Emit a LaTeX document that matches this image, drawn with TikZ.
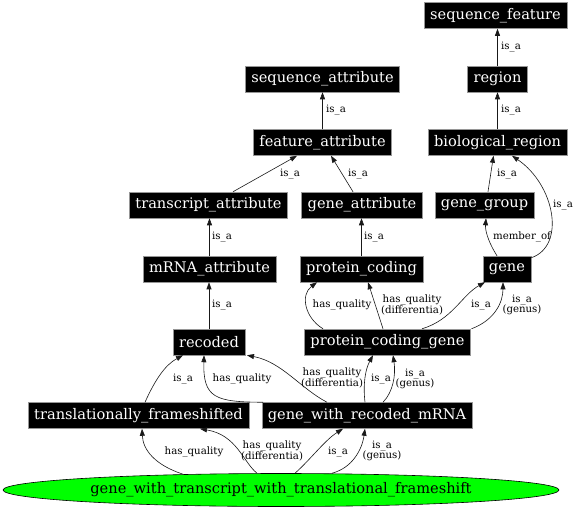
\documentclass[tikz,border=0pt]{standalone}
\usepackage{fontspec}
\setmainfont{DejaVu Serif}
\usetikzlibrary{shapes.geometric,arrows.meta}
\definecolor{termblack}{RGB}{0,0,0}
\definecolor{termedge}{RGB}{150,150,150}
\definecolor{rootgreen}{RGB}{0,255,0}
\definecolor{reltext}{RGB}{25,25,25}
\tikzset{
  term/.style={fill=termblack,draw=termedge,line width=0.5pt,text=white,
    font=\fontsize{14.6}{16}\selectfont,minimum height=26pt,inner xsep=6pt,inner ysep=0pt},
  rootterm/.style={ellipse,fill=rootgreen,draw=black,line width=0.6pt,
    font=\fontsize{14.6}{16}\selectfont,minimum width=556pt,minimum height=33pt,inner sep=0pt},
  rel/.style={draw=reltext,line width=0.6pt,-{Triangle[length=7pt,width=5pt]}},
  rellbl/.style={font=\fontsize{10.2}{10.5}\selectfont,align=center,inner sep=0pt}
}
\begin{document}
\begin{tikzpicture}[x=1pt,y=-1pt]
\useasboundingbox (0,0) rectangle (576,509);
% terms
\node[term] (seqfeat) at (495.5,15.5) {sequence\_feature};
\node[term] (region) at (497.5,79) {region};
\node[term] (bioreg) at (497.5,142.5) {biological\_region};
\node[term] (genegrp) at (484.5,205) {gene\_group};
\node[term] (seqattr) at (322.5,79) {sequence\_attribute};
\node[term] (featattr) at (322.5,142.5) {feature\_attribute};
\node[term] (txattr) at (208.5,205) {transcript\_attribute};
\node[term] (geneattr) at (362,205) {gene\_attribute};
\node[term] (mrnaattr) at (209.5,269) {mRNA\_attribute};
\node[term] (protcod) at (361.5,269) {protein\_coding};
\node[term] (gene) at (507,269) {gene};
\node[term] (recoded) at (209,342) {recoded};
\node[term] (pcgene) at (387.5,342) {protein\_coding\_gene};
\node[term] (tfshift) at (138.5,415.5) {translationally\_frameshifted};
\node[term] (gwrmrna) at (367,415.5) {gene\_with\_recoded\_mRNA};
\node[rootterm] (root) at (281,490) {gene\_with\_transcript\_with\_translational\_frameshift};
% region -> sequence_feature
\draw[rel] (region.north) -- (region.north |- seqfeat.south);
\node[rellbl] (l1) at (511,47) {is\_a};
% biological_region -> region
\draw[rel] (bioreg.north) -- (region.south);
\node[rellbl] (l2) at (511,110) {is\_a};
% feature_attribute -> sequence_attribute
\draw[rel] (featattr.north) -- (seqattr.south);
\node[rellbl] (l3) at (336,110) {is\_a};
% transcript_attribute -> feature_attribute
\draw[rel] ([xshift=24.5pt]txattr.north) -- ([xshift=-25.5pt]featattr.south);
\node[rellbl] (l4) at (290,174) {is\_a};
% gene_attribute -> feature_attribute
\draw[rel] ([xshift=-9pt]geneattr.north) -- ([xshift=8.5pt]featattr.south);
\node[rellbl] (l5) at (358,174) {is\_a};
% gene_group -> biological_region
\draw[rel] ([xshift=3.5pt]genegrp.north) -- ([xshift=-4pt]bioreg.south);
\node[rellbl] (l6) at (507,174) {is\_a};
% gene -> biological_region
\draw[rel] ([yshift=-2pt]gene.north east) .. controls (566,246) and (555,185) .. ([xshift=14.5pt]bioreg.south);
\node[rellbl] (l7) at (563,205) {is\_a};
% gene -> gene_group
\draw[rel] ([xshift=-10pt]gene.north) .. controls (490,245) and (485,232) .. ([xshift=1.5pt]genegrp.south);
\node[rellbl] (l8) at (522,237) {member\_of};
% mRNA_attribute -> transcript_attribute
\draw[rel] (mrnaattr.north) -- (mrnaattr.north |- txattr.south);
\node[rellbl] (l9) at (222,237) {is\_a};
% protein_coding -> gene_attribute
\draw[rel] (protcod.north) -- (protcod.north |- geneattr.south);
\node[rellbl] (l10) at (374,237) {is\_a};
% recoded -> mRNA_attribute
\draw[rel] (recoded.north) -- (recoded.north |- mrnaattr.south);
\node[rellbl] (l11) at (222,305) {is\_a};
% protein_coding_gene -> protein_coding
\draw[rel] ([xshift=-64.5pt]pcgene.north) .. controls (305,318) and (300,295) .. ([xshift=-44.5pt]protcod.south);
\node[rellbl] (l12) at (342,305) {has\_quality};
\draw[rel] ([xshift=-4.5pt]pcgene.north) -- ([xshift=6.5pt]protcod.south);
\node[rellbl] (l13) at (412,305) {has\_quality\\(differentia)};
% protein_coding_gene -> gene
\draw[rel] ([xshift=34.5pt]pcgene.north) .. controls (452,320) and (462,295) .. ([xshift=-22pt]gene.south);
\node[rellbl] (l14) at (481,305) {is\_a};
\draw[rel] ([xshift=84pt]pcgene.north) .. controls (495,320) and (503,302) .. ([xshift=-4pt]gene.south);
\node[rellbl] (l15) at (522,305) {is\_a\\(genus)};
% translationally_frameshifted -> recoded
\draw[rel] ([xshift=6.5pt]tfshift.north) .. controls (155,380) and (165,365) .. ([xshift=-26pt]recoded.south);
\node[rellbl] (l16) at (183,379) {is\_a};
% gene_with_recoded_mRNA -> recoded
\draw[rel] ([xshift=-104pt]gwrmrna.north) .. controls (215,402) and (203,398) .. ([xshift=-5pt]recoded.south);
\node[rellbl] (l17) at (242,379) {has\_quality};
\draw[rel] ([xshift=-40pt]gwrmrna.north) .. controls (300,388) and (282,362) .. ([xshift=38pt]recoded.south);
\node[rellbl] (l18) at (332,378) {has\_quality\\(differentia)};
% gene_with_recoded_mRNA -> protein_coding_gene
\draw[rel] ([xshift=-2pt]gwrmrna.north) .. controls (363,385) and (365,370) .. ([xshift=-14.5pt]pcgene.south);
\node[rellbl] (l19) at (381,379) {is\_a};
\draw[rel] ([xshift=16pt]gwrmrna.north) .. controls (393,392) and (396,375) .. ([xshift=5.5pt]pcgene.south);
\node[rellbl] (l20) at (415,379) {is\_a\\(genus)};
% root -> translationally_frameshifted
\draw[rel] ([xshift=-98pt,yshift=-1pt]root.north) .. controls (155,465) and (143,450) .. ([xshift=3.5pt]tfshift.south);
\node[rellbl] (l21) at (194,452) {has\_quality};
\draw[rel] ([xshift=-24pt]root.north) .. controls (243,462) and (237,435) .. ([xshift=61.5pt]tfshift.south);
\node[rellbl] (l22) at (272,451) {has\_quality\\(differentia)};
% root -> gene_with_recoded_mRNA
\draw[rel] ([xshift=14pt]root.north) .. controls (310,460) and (325,440) .. ([xshift=-24pt]gwrmrna.south);
\node[rellbl] (l23) at (338,452) {is\_a};
\draw[rel] ([xshift=51pt]root.north) .. controls (352,468) and (362,450) .. ([xshift=-2pt]gwrmrna.south);
\node[rellbl] (l24) at (382,451) {is\_a\\(genus)};
\end{tikzpicture}
\end{document}
